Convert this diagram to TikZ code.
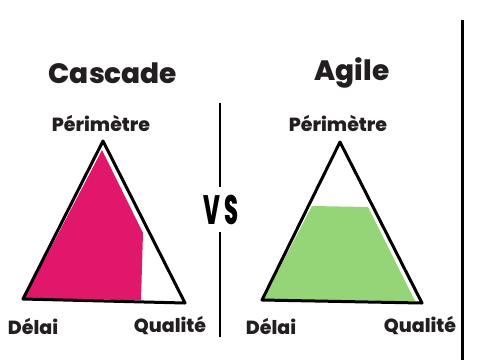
\documentclass[tikz,border=0pt]{standalone}
\usepackage{fontspec}
\setmainfont{Poppins}[BoldFont={Poppins ExtraBold}]
\usepackage{graphicx}
\definecolor{ink}{HTML}{231F20}
\definecolor{pinkfill}{HTML}{E0176B}
\definecolor{greenfill}{HTML}{95D577}
\begin{document}
\begin{tikzpicture}[x=1pt,y=-1pt,
  title/.style={font=\fontsize{28}{30}\selectfont\bfseries, text=ink, inner sep=0pt},
  corner/.style={font=\fontsize{19}{20}\selectfont\bfseries, text=ink, inner sep=0pt},
  outline/.style={draw=black, line width=3pt, line join=round},
  sep/.style={draw=black, line width=2.5pt}]
\useasboundingbox (0,0) rectangle (479,360);
% titles
\node[title] (t1) at (113,73) {Cascade};
\node[title] (t2) at (352,73) {Agile};
% corner labels
\node[corner] (p1) at (101,123) {Périmètre};
\node[corner] (d1) at (33,326) {Délai};
\node[corner] (q1) at (170,326) {Qualité};
\node[corner] (p2) at (338,123) {Périmètre};
\node[corner] (d2) at (271,326) {Délai};
\node[corner] (q2) at (420,326) {Qualité};
% left triangle
\coordinate (a1) at (103,141);
\coordinate (b1) at (23,299);
\coordinate (c1) at (185,303);
\fill[pinkfill] (102,150) -- (143,233) -- (141,300) -- (24,299) -- cycle;
\draw[outline] (a1) -- (c1) -- (b1) -- cycle;
% right triangle
\coordinate (a2) at (340,142);
\coordinate (b2) at (262,300);
\coordinate (c2) at (422,303);
\fill[greenfill] (312,206) -- (368,207) -- (415,301) -- (263,300) -- cycle;
\draw[outline] (a2) -- (c2) -- (b2) -- cycle;
% separators
\coordinate (s1) at (220,103);
\coordinate (s2) at (220,187);
\coordinate (s3) at (220,232);
\coordinate (s4) at (220,337);
\draw[sep] (s1) -- (s2);
\draw[sep] (s3) -- (s4);
\coordinate (r1) at (462,20);
\coordinate (r2) at (462,360);
\draw[draw=black, line width=3pt] (r1) -- (r2);
% VS
\node[inner sep=0pt, text=black] (vs) at (221,210) {\scalebox{0.55}[1]{\fontsize{41}{42}\selectfont\bfseries V\hspace{6pt}S}};
\end{tikzpicture}
\end{document}
